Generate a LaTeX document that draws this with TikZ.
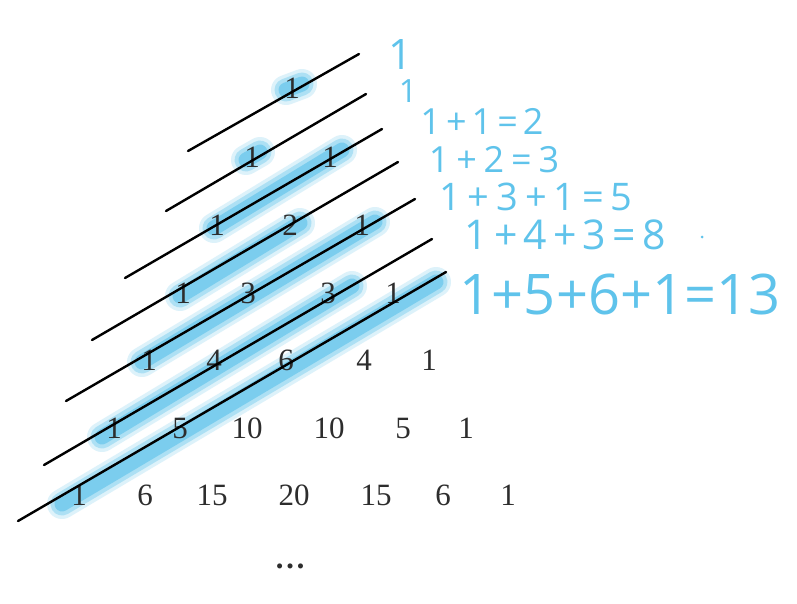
\documentclass[tikz,border=0pt]{standalone}
\usepackage{fontspec}
\setmainfont{Liberation Serif}
\newfontfamily\handfont{Open Sans}
\definecolor{hl}{RGB}{30,172,228}
\definecolor{ink}{RGB}{95,195,235}
\definecolor{numcol}{RGB}{45,45,45}

\begin{document}
\begin{tikzpicture}[
  x=1pt, y=-1pt,
  num/.style={text=numcol, font=\fontsize{31}{33}\selectfont, inner sep=0pt},
  sep/.style={line width=2.4pt, line cap=round},
  marker/.style={draw=hl, line cap=round},
  sum/.style={text=ink, inner sep=0pt}
]
\useasboundingbox[fill=white] (0,0) rectangle (797,603);

% diagonal lines
\coordinate (l1a) at (188,151); \coordinate (l1b) at (359,54);
\coordinate (l2a) at (166,211); \coordinate (l2b) at (366,94);
\coordinate (l3a) at (125,278); \coordinate (l3b) at (382,129);
\coordinate (l4a) at (92,340);  \coordinate (l4b) at (398,162);
\coordinate (l5a) at (66,401);  \coordinate (l5b) at (415,199);
\coordinate (l6a) at (44,465);  \coordinate (l6b) at (432,239);
\coordinate (l7a) at (18,521);  \coordinate (l7b) at (446,272);

% highlighted diagonals
\coordinate (h1a) at (286,90);  \coordinate (h1b) at (302,84);
\coordinate (h2a) at (246,160); \coordinate (h2b) at (260,152);
\coordinate (h3a) at (214,228); \coordinate (h3b) at (342,150);
\coordinate (h4a) at (180,296); \coordinate (h4b) at (300,223);
\coordinate (h5a) at (142,362); \coordinate (h5b) at (375,222);
\coordinate (h6a) at (102,437); \coordinate (h6b) at (352,286);
\coordinate (h7a) at (62,504);  \coordinate (h7b) at (436,282);

\foreach \w/\o in {30/0.15, 23/0.25, 15/0.35}
  \draw[marker, line width=\w pt, opacity=\o]
    (h1a) -- (h1b) (h2a) -- (h2b) (h3a) -- (h3b) (h4a) -- (h4b)
    (h5a) -- (h5b) (h6a) -- (h6b) (h7a) -- (h7b);

% Pascal's triangle
\node[num] (p00) at (292,88) {1};
\node[num] (p10) at (252,157) {1};
\node[num] (p11) at (330,157) {1};
\node[num] (p20) at (217,225) {1};
\node[num] (p21) at (290,225) {2};
\node[num] (p22) at (362,225) {1};
\node[num] (p30) at (183,293) {1};
\node[num] (p31) at (248,293) {3};
\node[num] (p32) at (328,293) {3};
\node[num] (p33) at (393,293) {1};
\node[num] (p40) at (149,360) {1};
\node[num] (p41) at (214,360) {4};
\node[num] (p42) at (286,360) {6};
\node[num] (p43) at (364,360) {4};
\node[num] (p44) at (429,360) {1};
\node[num] (p50) at (114,428) {1};
\node[num] (p51) at (180,428) {5};
\node[num] (p52) at (247,428) {10};
\node[num] (p53) at (329,428) {10};
\node[num] (p54) at (403,428) {5};
\node[num] (p55) at (466,428) {1};
\node[num] (p60) at (79,495) {1};
\node[num] (p61) at (145,495) {6};
\node[num] (p62) at (212,495) {15};
\node[num] (p63) at (294,495) {20};
\node[num] (p64) at (376,495) {15};
\node[num] (p65) at (443,495) {6};
\node[num] (p66) at (508,495) {1};
\node[num] (dots) at (290,566) {\textbf{\dots}};

\foreach \i in {1,...,7}
  \draw[sep] (l\i a) -- (l\i b);

% sums
\node[sum, font=\handfont\fontsize{42}{42}\selectfont] (s1) at (401,55) {1};
\node[sum, font=\handfont\fontsize{32}{32}\selectfont] (s2) at (408,91) {1};
\node[sum, font=\handfont\addfontfeature{LetterSpace=14}\fontsize{36}{36}\selectfont] (s3) at (482,121) {1+1=2};
\node[sum, font=\handfont\addfontfeature{LetterSpace=19}\fontsize{36}{36}\selectfont] (s4) at (494,160) {1+2=3};
\node[sum, font=\handfont\addfontfeature{LetterSpace=18}\fontsize{38}{38}\selectfont] (s5) at (536,197) {1+3+1=5};
\node[sum, font=\handfont\addfontfeature{LetterSpace=15}\fontsize{41}{41}\selectfont] (s6) at (565,235) {1+4+3=8};
\node[sum, font=\handfont\fontsize{56}{56}\selectfont] (s7) at (620,294) {1+5+6+1=13};
\fill[ink] (702,237) circle (1.5);
\end{tikzpicture}
\end{document}
